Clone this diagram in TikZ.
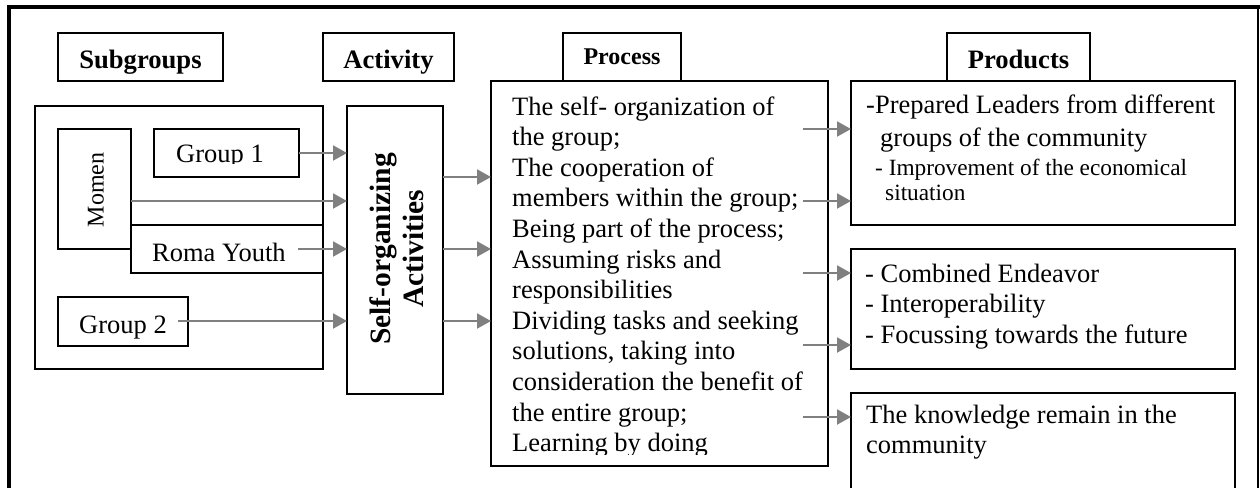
\documentclass[tikz,border=0pt]{standalone}
\usepackage{fontspec}
\setmainfont{Liberation Serif}
\usetikzlibrary{arrows.meta}
\definecolor{arrgray}{RGB}{128,128,128}
\begin{document}
\begin{tikzpicture}[x=1pt,y=-1pt,
  boxs/.style={draw, line width=1.5pt, inner sep=0pt, outer sep=0pt},
  arr/.style={draw=arrgray, line width=2pt, -{Triangle[length=14pt,width=15pt]}},
  reg/.style={font=\fontsize{26.5}{30.6}\selectfont, inner sep=0pt, anchor=base west},
  small/.style={font=\fontsize{23.3}{25}\selectfont, inner sep=0pt, anchor=base west},
  hdr/.style={font=\bfseries\fontsize{26.6}{30}\selectfont, inner sep=0pt, anchor=base},
]
\useasboundingbox (0,0) rectangle (1260,487);
\clip (0,0) rectangle (1260,487);

% outer frame
\draw[line width=4pt] (9,540) -- (9,7) -- (1262,7);
\draw[line width=1.5pt] (1258,7) -- (1258,540);

% headers
\node[boxs, minimum width=165pt, minimum height=48pt] (sub) at (140.5,57) {};
\node[hdr] (subt) at (140.5,68) {Subgroups};
\node[boxs, minimum width=131pt, minimum height=48pt] (act) at (388.5,57) {};
\node[hdr] (actt) at (388.5,68) {Activity};
\node[boxs, minimum width=118pt, minimum height=48pt] (phd) at (622,57) {};
\node[hdr, font=\bfseries\fontsize{24}{28}\selectfont] (phdt) at (622,65) {Process};
\node[boxs, minimum width=143pt, minimum height=48pt] (pdh) at (1018.5,57) {};
\node[hdr] (pdht) at (1018.5,68) {Products};

% subgroups
\node[boxs, minimum width=288pt, minimum height=263pt] (sg) at (179,237.5) {};
\node[boxs, minimum width=73pt, minimum height=120pt] (momen) at (94.5,189) {};
\node[font=\fontsize{24}{28}\selectfont, rotate=90, inner sep=0pt] (momt) at (96,190) {Momen};
\node[boxs, minimum width=192pt, minimum height=48pt] (roma) at (227,249) {};
\node[reg] (romat) at (152,261) {Roma Youth};
\node[boxs, minimum width=145pt, minimum height=48pt] (g1) at (226.5,153) {};
\begin{scope}
  \clip (154,129) rectangle (299,163);
  \node[reg] (g1t) at (176,162) {Group 1};
\end{scope}
\node[boxs, minimum width=130pt, minimum height=49pt] (g2) at (123,321.5) {};
\node[reg] (g2t) at (79,333) {Group 2};

% activity
\node[boxs, minimum width=96pt, minimum height=288pt] (soa) at (395,250) {};
\node[font=\bfseries\fontsize{29.5}{33}\selectfont, rotate=90, align=center, inner sep=0pt] (soat) at (397,249) {Self-organizing\\Activities};

% process
\node[boxs, minimum width=337pt, minimum height=385pt] (proc) at (659.5,273.5) {};
\begin{scope}
  \clip (491,81) rectangle (828,454);
  \node[reg] (proct) at (512,115) {\begin{tabular}[t]{@{}l@{}}The self- organization of\\the group;\\The cooperation of\\members within the group;\\Being part of the process;\\Assuming risks and\\responsibilities\\Dividing tasks and seeking\\solutions, taking into\\consideration the benefit of\\the entire group;\\Learning by doing\end{tabular}};
\end{scope}

% products
\node[boxs, minimum width=384pt, minimum height=144pt] (p1) at (1043,153) {};
\node[reg] (p1a) at (866,113) {-Prepared Leaders from different};
\node[reg] (p1b) at (880,146) {groups of the community};
\node[small] (p1c) at (875,175) {- Improvement of the economical};
\node[small] (p1d) at (885,200) {situation};
\node[boxs, minimum width=384pt, minimum height=120pt] (p2) at (1043,309) {};
\node[reg] (p2t) at (865,282) {\begin{tabular}[t]{@{}l@{}}- Combined Endeavor\\- Interoperability\\- Focussing towards the future\end{tabular}};
\node[boxs, minimum width=384pt, minimum height=120pt] (p3) at (1043,453) {};
\node[reg] (p3t) at (866,423) {\begin{tabular}[t]{@{}l@{}}The knowledge remain in the\\community\end{tabular}};

% connectors: subgroups -> activity
\coordinate (ms) at (131,201);
\coordinate (rs) at (298,249);
\coordinate (gs) at (178,321);
\draw[arr] (g1.east) -- (soa.west |- g1.east);
\draw[arr] (ms) -- (soa.west |- ms);
\draw[arr] (rs) -- (soa.west |- rs);
\draw[arr] (gs) -- (soa.west |- gs);

% activity -> process
\coordinate (a1) at (443,177);
\coordinate (a2) at (443,249);
\coordinate (a3) at (443,321);
\draw[arr] (a1) -- (proc.west |- a1);
\draw[arr] (a2) -- (proc.west |- a2);
\draw[arr] (a3) -- (proc.west |- a3);

% process -> products
\coordinate (q1) at (803,129);
\coordinate (q2) at (803,201);
\coordinate (q3) at (803,273);
\coordinate (q4) at (803,345);
\coordinate (q5) at (803,417);
\draw[arr] (q1) -- (p1.west |- q1);
\draw[arr] (q2) -- (p1.west |- q2);
\draw[arr] (q3) -- (p2.west |- q3);
\draw[arr] (q4) -- (p2.west |- q4);
\draw[arr] (q5) -- (p3.west |- q5);
\end{tikzpicture}
\end{document}
